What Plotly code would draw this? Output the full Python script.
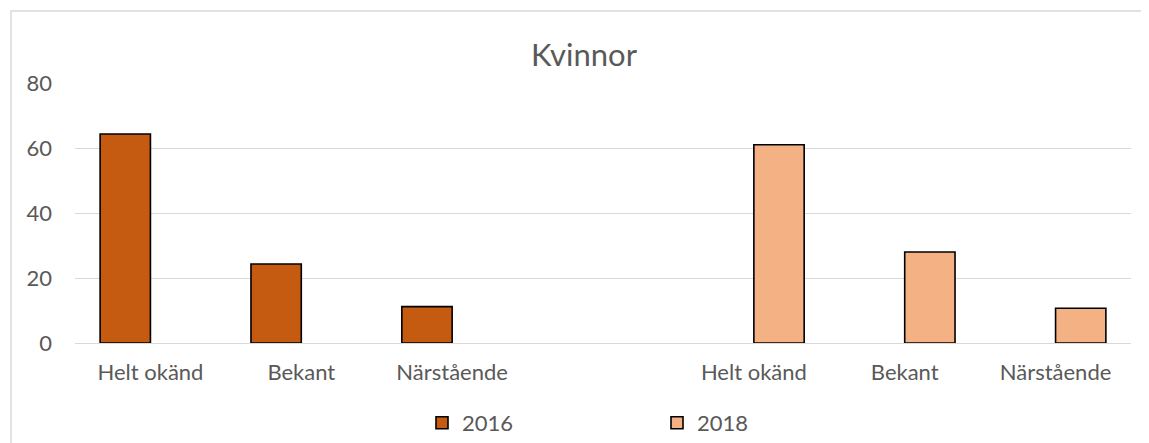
import plotly.graph_objects as go

# Data
categories = ["Helt okänd", "Bekant", "Närstående", "", "Helt okänd", "Bekant", "Närstående"]
values_2016 = [64.3, 24.3, 11.2, None, None, None, None]
values_2018 = [None, None, None, None, 61.0, 28.0, 10.7]
y_ticks = [0, 20, 40, 60, 80]

positions = list(range(len(categories)))

FONT = "Lato"
GREY_TEXT = "#595959"
GRID = "#D9D9D9"

# page has an 8px body margin, so everything is laid out 8px up/left
W, H = 1149, 443
L, R, T, B = 67, 26, 75, 108
PW, PH = W - L - R, H - T - B


def px_x(p):
    return (p - L) / PW


def px_y(p):
    return (H - B - p) / PH


fig = go.Figure()
fig.add_trace(go.Bar(x=positions, y=values_2016, name="2016",
                     marker=dict(color="#C55A11", line=dict(color="#000000", width=1.6))))
fig.add_trace(go.Bar(x=positions, y=values_2018, name="2018",
                     marker=dict(color="#F4B183", line=dict(color="#000000", width=1.6))))

# outer chart border (runs off the right/bottom edge like the reference)
fig.add_shape(type="rect", xref="paper", yref="paper",
              x0=px_x(3), x1=px_x(1170), y0=px_y(460), y1=px_y(3),
              line=dict(color=GRID, width=1.5), layer="below")

fig.update_layout(
    width=W, height=H,
    margin=dict(l=L, r=R, t=T, b=B, autoexpand=False),
    paper_bgcolor="white", plot_bgcolor="white",
    font=dict(family=FONT, size=22, color=GREY_TEXT),
    title=dict(text="Kvinnor", font=dict(size=31, color=GREY_TEXT),
               xref="paper", x=px_x(576), xanchor="center",
               yref="container", y=1 - 47 / H, yanchor="middle"),
    barmode="group", bargap=0.333, bargroupgap=0,
    legend=dict(orientation="h", xanchor="left", x=px_x(414),
                yanchor="middle", y=px_y(415),
                entrywidth=190, entrywidthmode="pixels",
                font=dict(size=22, color=GREY_TEXT)),
    showlegend=True,
)
fig.update_xaxes(range=[-0.5, len(categories) - 0.5], tickvals=positions, ticktext=categories,
                 showgrid=False, zeroline=False, showline=False, ticks="",
                 ticklabelstandoff=14)
fig.update_yaxes(range=[0, 80], tickvals=y_ticks, showgrid=True, gridcolor=GRID, gridwidth=1.3,
                 zeroline=True, zerolinecolor=GRID, zerolinewidth=1.3,
                 showline=False, ticks="", ticklabelstandoff=22)

fig.write_html("out.html")
